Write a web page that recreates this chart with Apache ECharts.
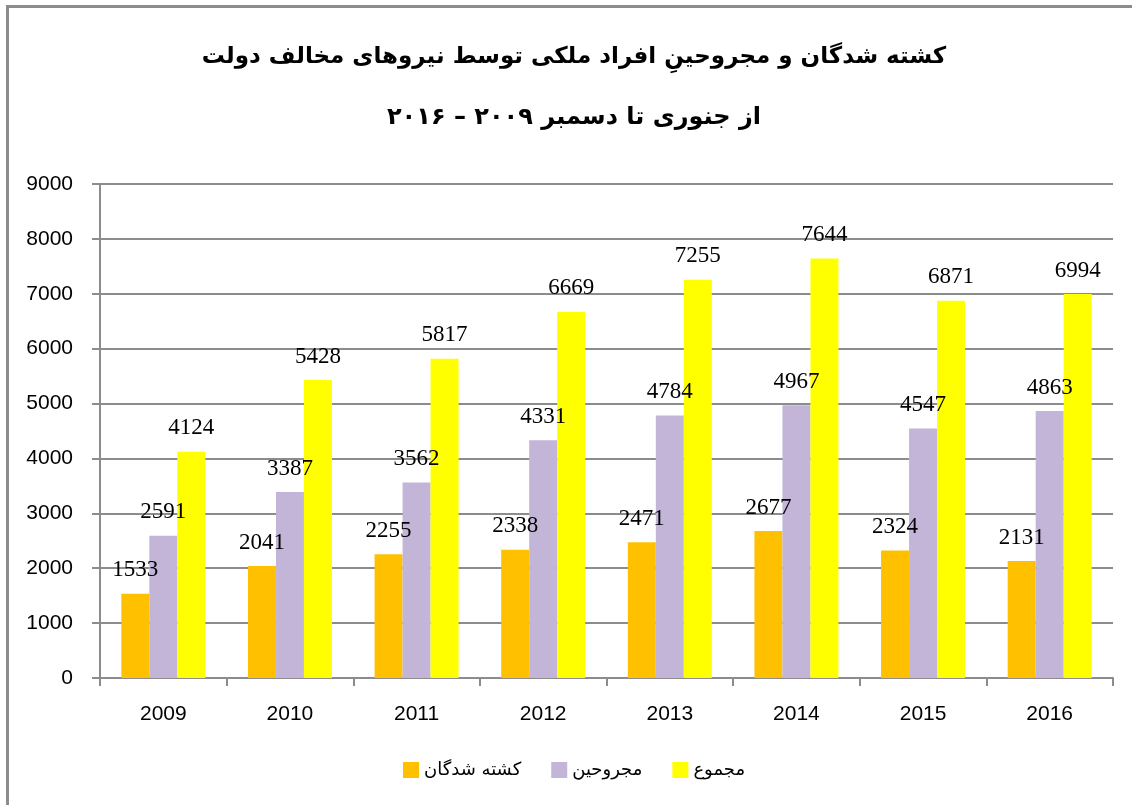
<!DOCTYPE html>
<html>
<head>
<meta charset="utf-8">
<script src="https://cdn.jsdelivr.net/npm/echarts@6/dist/echarts.min.js"></script>
<style>
    html, body { margin: 0; padding: 0; background: #fff; }
    #chart { width: 1132px; height: 805px; }
</style>
</head>
<body>
<div id="chart"></div>
<script>
// 数据
var years = ['2009', '2010', '2011', '2012', '2013', '2014', '2015', '2016'];
var killed = [1533, 2041, 2255, 2338, 2471, 2677, 2324, 2131];
var injured = [2591, 3387, 3562, 4331, 4784, 4967, 4547, 4863];
var total = [4124, 5428, 5817, 6669, 7255, 7644, 6871, 6994];
var seriesNames = ['کشته شدگان', 'مجروحین', 'مجموع'];
var titleLine1 = 'کشته شدگان و مجروحینِ افراد ملکی توسط نیروهای مخالف دولت';
var titleLine2 = 'از جنوری تا دسمبر ۲۰۰۹ – ۲۰۱۶';

var faFont = '"DejaVu Sans", sans-serif';
var numFont = '"Liberation Sans", sans-serif';

var myChart = echarts.init(document.getElementById('chart'));

function barSeries(name, color, data) {
    return {
        name: name,
        type: 'bar',
        barWidth: 28,
        barGap: '0%',
        itemStyle: { color: color },
        label: {
            show: true,
            position: 'top',
            distance: 12,
            color: '#000',
            fontSize: 23,
            fontFamily: '"Liberation Serif", serif'
        },
        data: data
    };
}

var option = {
    backgroundColor: '#fff',
    animation: false,
    graphic: [{
        type: 'rect',
        shape: { x: 7.5, y: 6.5, width: 1200, height: 900 },
        style: { fill: 'none', stroke: '#8c8c8c', lineWidth: 3 },
        z: -1
    }, {
        type: 'text',
        style: {
            text: titleLine1,
            x: 574, y: 57,
            align: 'center', verticalAlign: 'middle',
            font: 'bold 23px ' + faFont,
            fill: '#000'
        }
    }, {
        type: 'text',
        style: {
            text: titleLine2,
            x: 574, y: 118,
            align: 'center', verticalAlign: 'middle',
            font: 'bold 24px ' + faFont,
            fill: '#000'
        }
    }],
    legend: {
        bottom: 21,
        left: 398,
        itemWidth: 16,
        itemHeight: 16,
        itemGap: 30,
        icon: 'rect',
        textStyle: { fontSize: 18, fontFamily: faFont, color: '#000' },
        data: seriesNames
    },
    grid: {
        left: 100,
        right: 19,
        top: 184,
        bottom: 127
    },
    xAxis: {
        type: 'category',
        data: years,
        axisLine: { lineStyle: { color: '#8c8c8c', width: 2 } },
        axisTick: { show: true, length: 8, lineStyle: { color: '#8c8c8c', width: 2 } },
        axisLabel: { margin: 26, fontSize: 21, fontFamily: numFont, color: '#000' }
    },
    yAxis: {
        type: 'value',
        min: 0,
        max: 9000,
        interval: 1000,
        axisLine: { show: true, lineStyle: { color: '#8c8c8c', width: 2 } },
        axisTick: { show: true, length: 8, lineStyle: { color: '#8c8c8c', width: 2 } },
        axisLabel: {
            margin: 27, fontSize: 21, fontFamily: numFont, color: '#000',
            formatter: function (v) { return String(v); }
        },
        splitLine: { lineStyle: { color: '#8c8c8c', width: 2 } }
    },
    series: [
        barSeries(seriesNames[0], '#ffc000', killed),
        barSeries(seriesNames[1], '#c3b5d8', injured),
        barSeries(seriesNames[2], '#ffff00', total)
    ]
};

myChart.setOption(option);
</script>
</body>
</html>
